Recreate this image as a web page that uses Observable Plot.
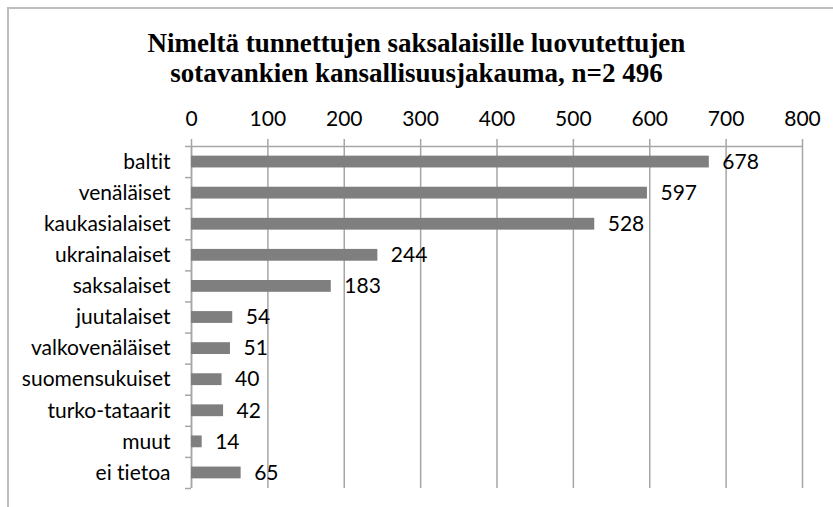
<!DOCTYPE html>
<html>
<head>
<meta charset="utf-8">
<script src="https://cdn.jsdelivr.net/npm/d3@7"></script>
<script src="https://cdn.jsdelivr.net/npm/@observablehq/plot@0.6"></script>
<style>
  html, body { margin: 0; padding: 0; background: #fff; }
  #wrap { position: relative; width: 833px; height: 507px; overflow: hidden; }
  #frame { position: absolute; left: 7px; top: 7px; width: 840px; height: 520px;
           border-left: 2px solid #bdbdbd; border-top: 2px solid #bdbdbd; box-sizing: border-box; }
  #title { position: absolute; left: 0; width: 833px; top: 28px; text-align: center;
           font-family: "Liberation Serif", "Times New Roman", serif; font-weight: bold;
           font-size: 27px; line-height: 30px; color: #000; }
  #chart { position: absolute; left: 0; top: 0; }
  #chart svg text { font-variant-ligatures: none; font-feature-settings: "liga" 0; }
</style>
</head>
<body>
<div id="wrap">
  <div id="frame"></div>
  <div id="title">Nimeltä tunnettujen saksalaisille luovutettujen<br>sotavankien kansallisuusjakauma, n=2 496</div>
  <div id="chart"></div>
</div>
<script>
const categories = ["baltit", "venäläiset", "kaukasialaiset", "ukrainalaiset", "saksalaiset", "juutalaiset",
  "valkovenäläiset", "suomensukuiset", "turko-tataarit", "muut", "ei tietoa"];
const values = [678, 597, 528, 244, 183, 54, 51, 40, 42, 14, 65];
const xTicks = [0, 100, 200, 300, 400, 500, 600, 700, 800];

const data = categories.map((c, i) => ({i, c, v: values[i]}));
const bounds = d3.range(categories.length + 1).map(k => ({b: k - 0.5}));

const font = "Lato, 'Open Sans', sans-serif";
const grey = "#a6a6a6";
const fs = 21;
const chart = Plot.plot({
  width: 833,
  height: 507,
  marginTop: 146,
  marginBottom: 19,
  marginLeft: 191,
  marginRight: 31,
  style: {fontFamily: font, fontSize: fs + "px", color: "#000", background: "transparent"},
  x: {domain: [0, 800], axis: "top", ticks: xTicks, tickSize: 0, tickPadding: 21, label: null,
      tickFormat: d => String(d)},
  y: {domain: [-0.5, categories.length - 0.5], range: [146, 488], axis: "left",
      ticks: d3.range(categories.length), tickSize: 0, tickPadding: 21, label: null,
      tickFormat: i => categories[i]},
  marks: [
    Plot.ruleX(xTicks, {x: d => d, y1: -0.5, y2: categories.length - 0.5, stroke: grey, strokeWidth: 1.5}),
    Plot.ruleX(xTicks, {x: d => d, y1: -0.5, y2: -0.5 - 7 / 31.1, stroke: grey, strokeWidth: 1.5}),
    Plot.ruleY([-0.5], {y: d => d, x1: 0, x2: 800, stroke: grey, strokeWidth: 1.5}),
    Plot.ruleX([0], {x: d => d, y1: -0.5, y2: categories.length - 0.5, stroke: grey, strokeWidth: 1.5}),
    Plot.ruleY(bounds, {y: "b", x1: -6 / 0.764, x2: 0, stroke: grey, strokeWidth: 1.5}),
    Plot.rect(data, {x1: 0, x2: "v", y1: d => d.i - 0.19, y2: d => d.i + 0.19, fill: "#7f7f7f"}),
    Plot.text(data, {x: "v", y: "i", text: d => String(d.v), textAnchor: "start", dx: 13, dy: 0,
      fontSize: fs, fill: "#000"})
  ]
});
document.getElementById("chart").appendChild(chart);
</script>
</body>
</html>
